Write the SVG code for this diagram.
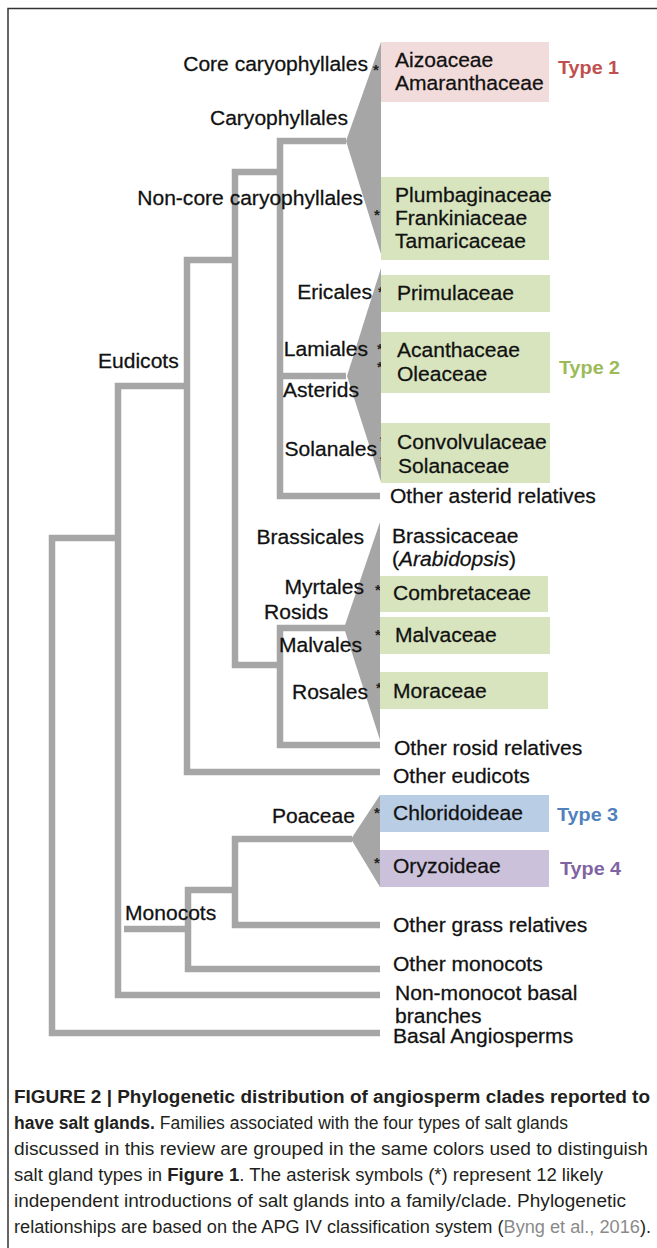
<svg xmlns="http://www.w3.org/2000/svg" width="657" height="1248" viewBox="0 0 657 1248">
<style>
.ln{fill:none;stroke:#a6a6a6;stroke-width:6.5;stroke-linejoin:miter;stroke-linecap:butt}
.tri{fill:#a6a6a6}
.t{font-family:"Liberation Sans",Arial,sans-serif;font-size:19.5px;fill:#111;stroke:#111;stroke-width:0.25}
.e{text-anchor:end}
.ty{font-family:"Liberation Sans",Arial,sans-serif;font-size:19px;font-weight:bold}
.ast{font-family:"Liberation Sans",Arial,sans-serif;font-size:15px;font-weight:bold;fill:#222;text-anchor:middle}
.cap{font-family:"Liberation Sans",Arial,sans-serif;font-size:17.5px;fill:#231f20}
.b{font-weight:bold}
.pink{fill:#f2dcdb}.green{fill:#d7e4bd}.blue{fill:#b9cde5}.purple{fill:#ccc1da}
</style>
<rect width="657" height="1248" fill="#ffffff"/>
<path d="M8 1248 V8.5 H657" fill="none" stroke="#333" stroke-width="1.5"/>

<g id="connectors">
<path class="ln" d="M380 1033 H52 V538 H118"/>
<path class="ln" d="M188 386 H118 V995 H380"/>
<path class="ln" d="M235 260 H187 V772 H380"/>
<path class="ln" d="M280 172 H235 V665 H280"/>
<path class="ln" d="M346 141 H280 V496 H380"/>
<path class="ln" d="M280 376 H346"/>
<path class="ln" d="M345 628 H280 V745 H380"/>
<path class="ln" d="M124 929 H188"/>
<path class="ln" d="M235 890 H188 V969 H380"/>
<path class="ln" d="M352 839 H235 V925 H380"/>
<polygon class="tri" points="346,141 381,42 381,254"/>
<polygon class="tri" points="347,376 381,268 381,482"/>
<polygon class="tri" points="344,628 380,522 380,740"/>
<polygon class="tri" points="351,839 380,795 380,887"/>
</g>

<g id="clade-labels">
<text class="t e" transform="translate(368 71) scale(1.08 1)">Core caryophyllales</text>
<text class="t e" transform="translate(348 125) scale(1.08 1)">Caryophyllales</text>
<text class="t e" transform="translate(363 205) scale(1.08 1)">Non-core caryophyllales</text>
<text class="t" transform="translate(98 368) scale(1.08 1)">Eudicots</text>
<text class="t e" transform="translate(372 299) scale(1.08 1)">Ericales</text>
<text class="t e" transform="translate(368 356) scale(1.08 1)">Lamiales</text>
<text class="t" transform="translate(283 397) scale(1.08 1)">Asterids</text>
<text class="t e" transform="translate(377 456) scale(1.08 1)">Solanales</text>
<text class="t e" transform="translate(364 544) scale(1.08 1)">Brassicales</text>
<text class="t e" transform="translate(364 594) scale(1.08 1)">Myrtales</text>
<text class="t" transform="translate(264 619) scale(1.08 1)">Rosids</text>
<text class="t e" transform="translate(362 652) scale(1.08 1)">Malvales</text>
<text class="t e" transform="translate(368 699) scale(1.08 1)">Rosales</text>
<text class="t e" transform="translate(355 823) scale(1.08 1)">Poaceae</text>
<text class="t" transform="translate(125 920) scale(1.08 1)">Monocots</text>
</g>

<g id="asterisks">
<text class="ast" x="376" y="75">*</text>
<text class="ast" x="377" y="220">*</text>
<text class="ast" x="381" y="297">*</text>
<text class="ast" x="380" y="354">*</text>
<text class="ast" x="380" y="372">*</text>
<text class="ast" x="383" y="446">*</text>
<text class="ast" x="383" y="466">*</text>
<text class="ast" x="378" y="595">*</text>
<text class="ast" x="378" y="640">*</text>
<text class="ast" x="379" y="693">*</text>
<text class="ast" x="377" y="818">*</text>
<text class="ast" x="377" y="868">*</text>
</g>

<g id="type1">
<rect class="pink" x="381" y="42" width="168" height="60"/>
<text class="t" transform="translate(395 67) scale(1.08 1)">Aizoaceae</text>
<text class="t" transform="translate(395 90) scale(1.08 1)">Amaranthaceae</text>
<text class="ty" fill="#c0504d" transform="translate(558 74) scale(1.04 1)">Type 1</text>
</g>
<g id="noncore-families">
<rect class="green" x="381" y="177" width="168" height="83"/>
<text class="t" transform="translate(395 202) scale(1.08 1)">Plumbaginaceae</text>
<text class="t" transform="translate(395 225) scale(1.08 1)">Frankiniaceae</text>
<text class="t" transform="translate(395 248) scale(1.08 1)">Tamaricaceae</text>
</g>
<g id="primulaceae">
<rect class="green" x="381" y="275" width="169" height="37"/>
<text class="t" transform="translate(397 300) scale(1.08 1)">Primulaceae</text>
</g>
<g id="lamiales-families">
<rect class="green" x="381" y="332" width="169" height="61"/>
<text class="t" transform="translate(397 357) scale(1.08 1)">Acanthaceae</text>
<text class="t" transform="translate(397 381) scale(1.08 1)">Oleaceae</text>
<text class="ty" fill="#9bbb59" transform="translate(559 374) scale(1.04 1)">Type 2</text>
</g>
<g id="solanales-families">
<rect class="green" x="381" y="423" width="169" height="60"/>
<text class="t" transform="translate(397 449) scale(1.08 1)">Convolvulaceae</text>
<text class="t" transform="translate(398 473) scale(1.08 1)">Solanaceae</text>
</g>
<g id="other-asterid">
<text class="t" transform="translate(390 503) scale(1.08 1)">Other asterid relatives</text>
</g>
<g id="brassicaceae">
<text class="t" transform="translate(392 543) scale(1.08 1)">Brassicaceae</text>
<text class="t" transform="translate(392 566) scale(1.08 1)">(<tspan font-style="italic">Arabidopsis</tspan>)</text>
</g>
<g id="combretaceae">
<rect class="green" x="380" y="576" width="168" height="36"/>
<text class="t" transform="translate(393 600) scale(1.08 1)">Combretaceae</text>
</g>
<g id="malvaceae">
<rect class="green" x="380" y="617" width="170" height="37"/>
<text class="t" transform="translate(395 642) scale(1.08 1)">Malvaceae</text>
</g>
<g id="moraceae">
<rect class="green" x="380" y="672" width="168" height="37"/>
<text class="t" transform="translate(393 698) scale(1.08 1)">Moraceae</text>
</g>
<g id="other-rosid">
<text class="t" transform="translate(394 755) scale(1.08 1)">Other rosid relatives</text>
</g>
<g id="other-eudicots">
<text class="t" transform="translate(393 783) scale(1.08 1)">Other eudicots</text>
</g>
<g id="chloridoideae">
<rect class="blue" x="380" y="795" width="169" height="37"/>
<text class="t" transform="translate(393 820) scale(1.08 1)">Chloridoideae</text>
<text class="ty" fill="#4f81bd" transform="translate(557 821) scale(1.04 1)">Type 3</text>
</g>
<g id="oryzoideae">
<rect class="purple" x="380" y="850" width="169" height="37"/>
<text class="t" transform="translate(393 873) scale(1.08 1)">Oryzoideae</text>
<text class="ty" fill="#8064a2" transform="translate(560 875) scale(1.04 1)">Type 4</text>
</g>
<g id="other-grass">
<text class="t" transform="translate(393 932) scale(1.08 1)">Other grass relatives</text>
</g>
<g id="other-monocots">
<text class="t" transform="translate(393 971) scale(1.08 1)">Other monocots</text>
</g>
<g id="non-monocot-basal">
<text class="t" transform="translate(395 1000) scale(1.08 1)">Non-monocot basal</text>
<text class="t" transform="translate(395 1023) scale(1.08 1)">branches</text>
</g>
<g id="basal-angiosperms">
<text class="t" transform="translate(393 1043) scale(1.08 1)">Basal Angiosperms</text>
</g>

<g id="caption">
<text class="cap b" x="14" y="1103" textLength="636" lengthAdjust="spacingAndGlyphs">FIGURE 2 | Phylogenetic distribution of angiosperm clades reported to</text>
<text class="cap" x="14" y="1129" textLength="554" lengthAdjust="spacingAndGlyphs"><tspan class="b">have salt glands.</tspan> Families associated with the four types of salt glands</text>
<text class="cap" x="14" y="1155" textLength="634" lengthAdjust="spacingAndGlyphs">discussed in this review are grouped in the same colors used to distinguish</text>
<text class="cap" x="14" y="1181" textLength="589" lengthAdjust="spacingAndGlyphs">salt gland types in <tspan class="b">Figure 1</tspan>. The asterisk symbols (*) represent 12 likely</text>
<text class="cap" x="14" y="1207" textLength="612" lengthAdjust="spacingAndGlyphs">independent introductions of salt glands into a family/clade. Phylogenetic</text>
<text class="cap" x="14" y="1233" textLength="637" lengthAdjust="spacingAndGlyphs">relationships are based on the APG IV classification system (<tspan fill="#8a8a8a">Byng et al., 2016</tspan>).</text>
</g>
</svg>
